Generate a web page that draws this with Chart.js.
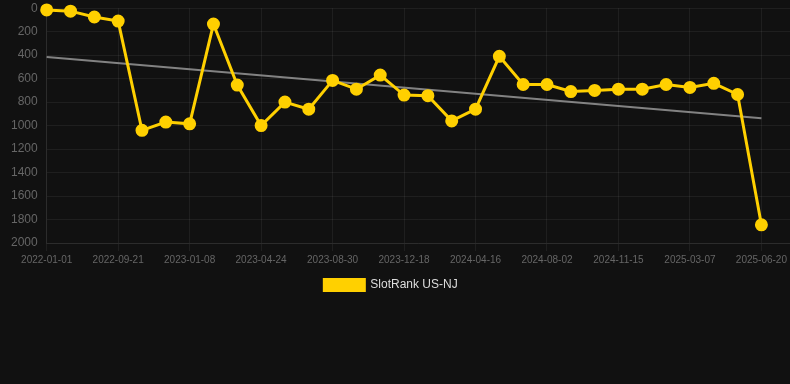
<!DOCTYPE html>
<html>
<head>
<meta charset="utf-8">
<script src="https://cdn.jsdelivr.net/npm/chart.js@4"></script>
<style>
  html, body { margin: 0; padding: 0; background: #111111; }
  #wrap { width: 790px; height: 305px; position: relative; }
</style>
</head>
<body>
<div id="wrap"><canvas id="c"></canvas></div>
<script>
const dates = [
  "2022-01-01","2022-04-15","2022-07-10","2022-09-21","2022-10-28","2022-12-02",
  "2023-01-08","2023-02-12","2023-03-19","2023-04-24","2023-06-05","2023-07-18",
  "2023-08-30","2023-10-06","2023-11-12","2023-12-18","2024-01-27","2024-03-07",
  "2024-04-16","2024-05-22","2024-06-27","2024-08-02","2024-09-06","2024-10-11",
  "2024-11-15","2024-12-24","2025-01-30","2025-03-07","2025-04-11","2025-05-16",
  "2025-06-20"
];
const ranks = [
  15, 25, 75, 110, 1040, 970, 985, 135, 655, 1000, 800, 860,
  615, 690, 570, 740, 745, 960, 860, 410, 650, 650, 710, 700,
  690, 690, 650, 675, 640, 735, 1845
];
const trendIdx = [0, 30];
const trendVals = [415, 938];
const yTicks = [0, 200, 400, 600, 800, 1000, 1200, 1400, 1600, 1800, 2000];
const seriesName = "SlotRank US-NJ";

const yellow = "#FFD000";
const gridColor = "rgba(255,255,255,0.06)";
const tickColor = "#666666";

const legendShift = {
  id: "legendShift",
  afterLayout(chart) {
    const lg = chart.legend;
    if (lg) { lg.left -= 9; lg.right -= 9; }
  }
};

new Chart(document.getElementById("c"), {
  type: "line",
  data: {
    datasets: [
      {
        label: seriesName,
        data: ranks.map((v, i) => ({ x: i, y: v })),
        borderColor: yellow,
        backgroundColor: yellow,
        borderWidth: 3,
        pointRadius: 5,
        pointHoverRadius: 5,
        pointBackgroundColor: yellow,
        pointBorderColor: yellow,
        tension: 0,
        clip: false
      },
      {
        label: "trend",
        data: trendIdx.map((x, i) => ({ x: x, y: trendVals[i] })),
        borderColor: "rgba(150,150,150,0.85)",
        borderWidth: 2,
        pointRadius: 0,
        tension: 0,
        clip: false
      }
    ]
  },
  options: {
    responsive: true,
    maintainAspectRatio: false,
    animation: false,
    layout: { autoPadding: false, padding: { left: 10, right: 0, top: 0, bottom: 4 } },
    scales: {
      x: {
        type: "linear",
        min: 0,
        max: 31.2,
        afterBuildTicks: (scale) => {
          scale.ticks = dates.map((d, i) => i).filter(i => i % 3 === 0).map(i => ({ value: i }));
        },
        ticks: {
          color: tickColor,
          font: { family: "Arial, 'Liberation Sans', sans-serif", size: 10 },
          maxRotation: 0,
          autoSkip: false,
          callback: (v) => dates[v] || ""
        },
        grid: { color: gridColor, drawTicks: true, tickLength: 8 },
        border: { color: gridColor }
      },
      y: {
        reverse: true,
        min: 0,
        max: 2000,
        afterBuildTicks: (scale) => {
          scale.ticks = yTicks.map(v => ({ value: v }));
        },
        ticks: {
          color: tickColor,
          font: { family: "Arial, 'Liberation Sans', sans-serif", size: 12 },
          padding: 1,
          callback: (v) => String(v)
        },
        grid: { color: gridColor, drawTicks: true, tickLength: 8, tickColor: "rgba(0,0,0,0)" },
        border: { color: gridColor }
      }
    },
    plugins: {
      legend: {
        position: "bottom",
        labels: {
          color: "#dddddd",
          font: { family: "Arial, 'Liberation Sans', sans-serif", size: 12 },
          boxWidth: 40,
          boxHeight: 11,
          filter: (item) => item.datasetIndex === 0
        }
      },
      tooltip: { enabled: false }
    }
  },
  plugins: [legendShift]
});
</script>
</body>
</html>
